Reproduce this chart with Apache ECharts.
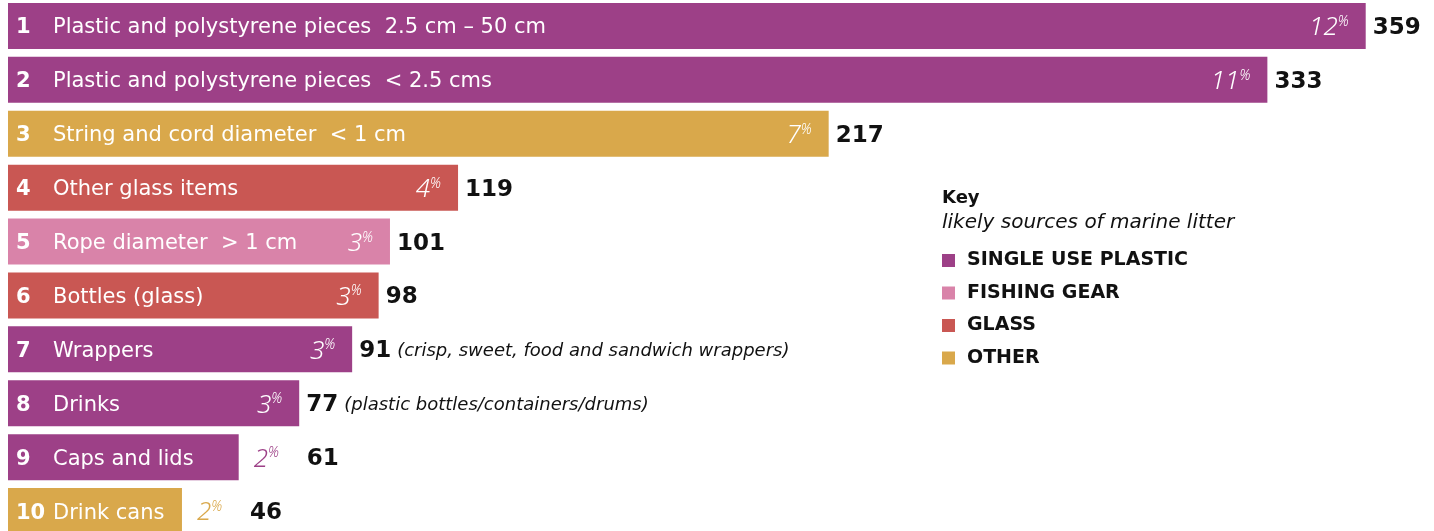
<!DOCTYPE html>
<html>
<head>
<meta charset="utf-8">
<script src="https://cdn.jsdelivr.net/npm/echarts@6/dist/echarts.min.js"></script>
<style>
html,body{margin:0;padding:0;background:#fff;overflow:hidden;}
#chart{width:1434px;height:545px;margin-top:-1px;}
</style>
</head>
<body>
<div id="chart"></div>
<script>
// ---- data ----
const categories = [
  'Plastic and polystyrene pieces  2.5 cm – 50 cm',
  'Plastic and polystyrene pieces  < 2.5 cms',
  'String and cord diameter  < 1 cm',
  'Other glass items',
  'Rope diameter  > 1 cm',
  'Bottles (glass)',
  'Wrappers',
  'Drinks',
  'Caps and lids',
  'Drink cans'
];
const values   = [359, 333, 217, 119, 101, 98, 91, 77, 61, 46];
const percents = [12, 11, 7, 4, 3, 3, 3, 3, 2, 2];
const sources  = ['SINGLE USE PLASTIC','SINGLE USE PLASTIC','OTHER','GLASS','FISHING GEAR','GLASS','SINGLE USE PLASTIC','SINGLE USE PLASTIC','SINGLE USE PLASTIC','OTHER'];
const notes    = ['', '', '', '', '', '', '(crisp, sweet, food and sandwich wrappers)', '(plastic bottles/containers/drums)', '', ''];
const keyNames = ['SINGLE USE PLASTIC', 'FISHING GEAR', 'GLASS', 'OTHER'];
const keyTitle = 'Key';
const keySubtitle = 'likely sources of marine litter';

// ---- style ----
const palette = {
  'SINGLE USE PLASTIC': '#9D4087',
  'FISHING GEAR': '#D983A9',
  'GLASS': '#C95753',
  'OTHER': '#D9A84B'
};
const FONT = 'DejaVu Sans';
const PFONT = 'Noto Sans';
const outsideLimit = 70; // percent label shown outside bar for short bars

const chart = echarts.init(document.getElementById('chart'));

const barData = values.map((v, i) => ({
  value: v,
  itemStyle: { color: palette[sources[i]] }
}));

const pctData = values.map((v, i) => {
  const outside = v < outsideLimit;
  const col = outside ? palette[sources[i]] : '#fff';
  return {
    value: v,
    label: {
      show: true,
      position: outside ? 'right' : 'insideRight',
      distance: outside ? 15 : 17,
      offset: [0, 2],
      formatter: '{n|' + percents[i] + '}{p|%}',
      rich: {
        n: { fontFamily: PFONT, fontStyle: 'italic', fontWeight: 300, fontSize: 26, color: col },
        p: { fontFamily: PFONT, fontStyle: 'italic', fontWeight: 300, fontSize: 14, color: col,
             verticalAlign: 'top', padding: [0, 0, 10, 0] }
      }
    }
  };
});

const valData = values.map((v, i) => {
  const outside = v < outsideLimit;
  return {
    value: v,
    label: {
      show: true,
      position: 'right',
      distance: outside ? 68 : 7,
      offset: [0, 2],
      formatter: '{v|' + v + '}' + (notes[i] ? '{s| }{t|' + notes[i] + '}' : '')
    }
  };
});

const series = [
  {
    type: 'bar', name: 'bars', data: barData, barWidth: 46, barGap: '-100%', silent: true,
    label: {
      show: true, position: 'insideLeft', distance: 8, offset: [0, 2],
      formatter: (p) => '{r|' + (p.dataIndex + 1) + '}{c|' + categories[p.dataIndex] + '}',
      rich: {
        r: { fontFamily: FONT, fontWeight: 'bold', fontSize: 21, color: '#fff', width: 37 },
        c: { fontFamily: FONT, fontSize: 21, color: '#fff' }
      }
    }
  },
  {
    type: 'bar', name: 'pct', data: pctData, barWidth: 46, barGap: '-100%', silent: true,
    itemStyle: { color: 'transparent' }
  },
  {
    type: 'bar', name: 'val', data: valData, barWidth: 46, barGap: '-100%', silent: true,
    itemStyle: { color: 'transparent' },
    label: {
      rich: {
        v: { fontFamily: FONT, fontWeight: 'bold', fontSize: 23, color: '#111' },
        s: { width: 6 },
        t: { fontFamily: FONT, fontStyle: 'italic', fontSize: 18, color: '#111' }
      }
    }
  }
];
keyNames.forEach(k => {
  series.push({ type: 'scatter', name: k, data: [], itemStyle: { color: palette[k], opacity: 1 } });
});

chart.setOption({
  animation: false,
  grid: { left: 8, top: 0, width: 1422, height: 539, containLabel: false },
  xAxis: { type: 'value', min: 0, max: 376, show: false },
  yAxis: { type: 'category', data: categories, inverse: true, show: false },
  legend: {
    data: keyNames, orient: 'vertical', left: 942, top: 252, padding: 0,
    icon: 'rect', itemWidth: 13, itemHeight: 13, itemGap: 13.5,
    selectedMode: false,
    textStyle: { fontFamily: FONT, fontSize: 19, fontWeight: 'bold', color: '#111', padding: [0, 0, 0, 7] }
  },
  graphic: [
    { type: 'text', left: 942, top: 190, style: { text: keyTitle, font: 'bold 18px "DejaVu Sans"', fill: '#111' } },
    { type: 'text', left: 942, top: 214, style: { text: keySubtitle, font: 'oblique 20px "DejaVu Sans"', fill: '#111' } }
  ],
  series: series
});
</script>
</body>
</html>
